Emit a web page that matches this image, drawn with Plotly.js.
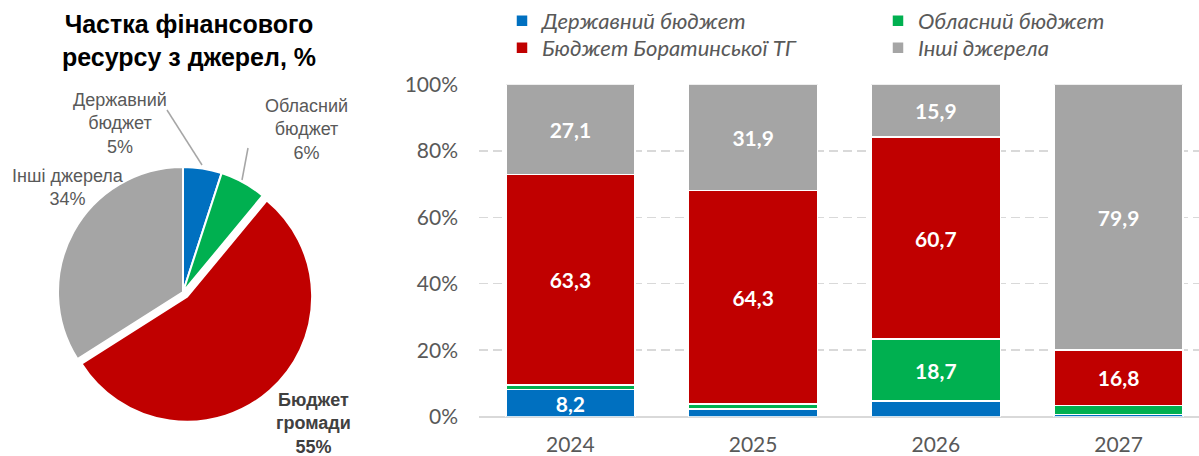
<!DOCTYPE html>
<html>
<head>
<meta charset="utf-8">
<script src="https://cdn.plot.ly/plotly-3.0.1.min.js"></script>
<style>html,body{margin:0;padding:0;background:#fff;}#chart{width:1199px;height:456px;}</style>
</head>
<body>
<div id="chart"></div>
<script>
// ---- Data ----
const years = ['2024', '2025', '2026', '2027'];
const seriesNames = ['Державний бюджет', 'Обласний бюджет', 'Бюджет Боратинської ТГ', 'Інші джерела'];
const stateBudget = [8.2, 2.3, 4.7, 0.6];
const regionalBudget = [1.4, 1.5, 18.7, 2.7];
const communityBudget = [63.3, 64.3, 60.7, 16.8];
const otherSources = [27.1, 31.9, 15.9, 79.9];
const yTickVals = [0, 20, 40, 60, 80, 100];
const yTickText = ['0%', '20%', '40%', '60%', '80%', '100%'];

const pieLabels = ['Державний бюджет', 'Обласний бюджет', 'Бюджет громади', 'Інші джерела'];
const pieValues = [5, 6, 55, 34];
const pieTitle = 'Частка фінансового<br>ресурсу з джерел, %';

// ---- Style ----
const colors = ['#0070C0', '#00B050', '#C00000', '#A5A5A5'];
const barFont = 'Lato, "Open Sans", sans-serif';
const pieFont = '"Liberation Sans", Arial, sans-serif';
const legendOf = ['legend', 'legend2', 'legend3', 'legend4'];

function labelText(vals) {
  return vals.map(v => v >= 5 ? v.toFixed(1).replace('.', ',') : '');
}

const barSeries = [stateBudget, regionalBudget, communityBudget, otherSources];
const traces = barSeries.map((vals, i) => ({
  type: 'bar',
  name: seriesNames[i],
  legend: legendOf[i],
  x: years,
  y: vals,
  text: labelText(vals),
  textposition: 'inside',
  insidetextanchor: 'middle',
  textangle: 0,
  constraintext: 'none',
  textfont: {family: barFont, size: 21, color: '#FFFFFF', weight: 'bold'},
  marker: {color: colors[i], line: {color: '#FFFFFF', width: 1.5}},
  hoverinfo: 'x+y+name',
  xaxis: 'x', yaxis: 'y'
}));

traces.push({
  type: 'pie',
  labels: pieLabels,
  values: pieValues,
  sort: false,
  direction: 'clockwise',
  rotation: 0,
  pull: [0, 0, 0.05, 0],
  textinfo: 'none',
  showlegend: false,
  marker: {colors: colors, line: {color: '#FFFFFF', width: 2}},
  domain: {x: [0.04316, 0.26210], y: [0.07182, 0.64748]}
});

// pie label annotations built from data
const pieLabelPos = [
  {x: 120, y: 124, bold: false},
  {x: 306, y: 129, bold: false},
  {x: 313, y: 423, bold: true},
  {x: 68, y: 187, bold: false}
];
const W = 1199, H = 456;
const annotations = pieLabels.map((lab, i) => {
  const words = lab.split(' ');
  const txt = (i === 3 ? lab : words.join('<br>')) + '<br>' + pieValues[i] + '%';
  const p = pieLabelPos[i];
  return {
    xref: 'paper', yref: 'paper',
    x: p.x / W, y: 1 - p.y / H,
    xanchor: 'center', yanchor: 'middle',
    text: txt, showarrow: false, align: 'center',
    font: {family: pieFont, size: 18, color: p.bold ? '#404040' : '#595959', weight: p.bold ? 'bold' : 'normal'}
  };
});

const shapes = [
  {type: 'line', xref: 'paper', yref: 'paper', x0: 167 / W, y0: 1 - 110 / H, x1: 202 / W, y1: 1 - 165 / H, line: {color: '#A6A6A6', width: 1.5}},
  {type: 'line', xref: 'paper', yref: 'paper', x0: 248 / W, y0: 1 - 148 / H, x1: 242 / W, y1: 1 - 180 / H, line: {color: '#A6A6A6', width: 1.5}}
];

const legendBase = {
  orientation: 'v',
  yanchor: 'top',
  xanchor: 'left',
  traceorder: 'normal',
  font: {family: barFont, size: 22, color: '#595959', style: 'italic'},
  bgcolor: 'rgba(0,0,0,0)', itemwidth: 30, borderwidth: 0
};
const legendX = [502, 878, 502, 878];
const legendTop = [0, 0, 27, 27];

const layout = {
  width: W, height: H,
  margin: {l: 0, r: 0, t: 0, b: 0},
  paper_bgcolor: '#FFFFFF', plot_bgcolor: '#FFFFFF',
  barmode: 'stack',
  bargap: 0.295,
  title: {
    text: '<b>' + pieTitle + '</b>',
    x: 189 / W, xanchor: 'center', xref: 'paper',
    y: 1 - 33 / H, yanchor: 'top', yref: 'paper',
    font: {family: pieFont, size: 25, color: '#000000'}
  },
  xaxis: {
    domain: [479 / W, 1],
    range: [-0.5, 3.44],
    type: 'category',
    showgrid: false, zeroline: false, showline: false,
    ticks: '', ticklabelstandoff: 13,
    tickfont: {family: barFont, size: 21, color: '#595959'},
    fixedrange: true
  },
  yaxis: {
    domain: [1 - 416.7 / H, 1 - 84.3 / H],
    range: [0, 100],
    tickvals: yTickVals, ticktext: yTickText,
    showgrid: true, gridcolor: '#D9D9D9', gridwidth: 1.5, griddash: '9px,5px',
    zeroline: true, zerolinecolor: '#D9D9D9', zerolinewidth: 2,
    showline: false, ticks: '', ticklabelstandoff: 20,
    tickfont: {family: barFont, size: 21, color: '#595959'},
    fixedrange: true
  },
  showlegend: true,
  annotations: annotations,
  shapes: shapes
};
legendOf.forEach((key, i) => {
  layout[key] = Object.assign({}, legendBase, {x: legendX[i] / W, y: 1 - legendTop[i] / H});
});

Plotly.newPlot('chart', traces, layout, {displayModeBar: false, staticPlot: true});
</script>
</body>
</html>
